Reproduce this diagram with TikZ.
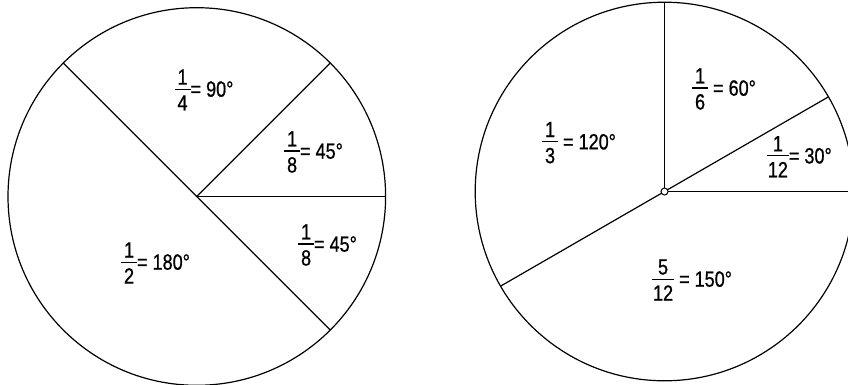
\documentclass[tikz,border=0pt]{standalone}
\usepackage{fontspec}
\setmainfont{Liberation Sans}[FakeStretch=0.82,FakeBold=0.8]
\usetikzlibrary{calc}
\newdimen\pfw
\newcommand\pfrac[2]{%
  \setbox0\hbox{#1}\setbox2\hbox{#2}%
  \pfw=\ifdim\wd0>\wd2 \wd0\else\wd2\fi
  \advance\pfw by 2pt
  \ifdim\pfw<16pt \pfw=16pt\fi
  \raise1.5pt\hbox{$\vcenter{\offinterlineskip
    \hbox to\pfw{\hfil\box0\hfil}\kern4pt
    \hrule height 1.2pt\kern5.5pt
    \hbox to\pfw{\hfil\box2\hfil}}$}}
\begin{document}
\begin{tikzpicture}[x=1pt,y=1pt,
  lbl/.style={font=\fontsize{22}{26}\selectfont, inner sep=0pt},
  seg/.style={line width=1.2pt}]
\useasboundingbox (0,0) rectangle (848,384);
\clip (0,0) rectangle (848,384);
% left pie
\coordinate (c1) at (196.8,187.5);
\draw[seg] (c1) circle (188.8);
\coordinate (p1a) at ($(c1)+(135:188.8)$);
\coordinate (p1b) at ($(c1)+(45:188.8)$);
\coordinate (p1c) at ($(c1)+(0:188.8)$);
\coordinate (p1d) at ($(c1)+(-45:188.8)$);
\draw[seg] (p1a) -- (c1) -- (p1d);
\draw[seg] (c1) -- (p1b);
\draw[seg] (c1) -- (p1c);
\node[lbl] (l1a) at (204,294) {\pfrac{1}{4}= 90\textdegree};
\node[lbl] (l1b) at (313.5,232) {\pfrac{1}{8}= 45\textdegree};
\node[lbl] (l1c) at (327.5,139) {\pfrac{1}{8}= 45\textdegree};
\node[lbl] (l1d) at (155.5,121) {\pfrac{1}{2}= 180\textdegree};
% right pie
\coordinate (c2) at (664.5,192.5);
\draw[seg] (c2) circle (189.3);
\coordinate (p2a) at ($(c2)+(90:189.3)$);
\coordinate (p2b) at ($(c2)+(30:189.3)$);
\coordinate (p2c) at ($(c2)+(0:189.3)$);
\coordinate (p2d) at ($(c2)+(210:189.3)$);
\draw[seg] (c2) -- (p2a);
\draw[seg] (c2) -- (p2b);
\draw[seg] (c2) -- (p2c);
\draw[seg] (c2) -- (p2d);
\node[circle, draw, fill=white, inner sep=0pt, minimum size=7pt, line width=1pt] (o2) at (c2) {};
\node[lbl] (l2a) at (724,295) {\pfrac{1}{6} = 60\textdegree};
\node[lbl] (l2b) at (579,241.3) {\pfrac{1}{3} = 120\textdegree};
\node[lbl] (l2c) at (799.3,227.3) {\pfrac{1}{12}= 30\textdegree};
\node[lbl] (l2d) at (692,104) {\pfrac{5}{12} = 150\textdegree};
\end{tikzpicture}
\end{document}
